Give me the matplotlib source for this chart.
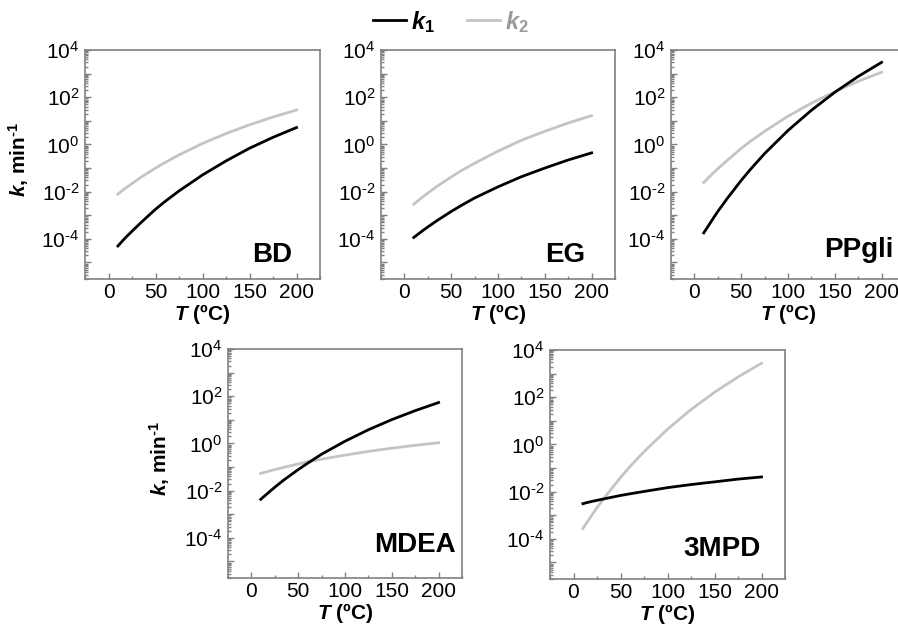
import math

import matplotlib
matplotlib.use("Agg")
import matplotlib.pyplot as plt
import matplotlib.ticker as mticker
from matplotlib.lines import Line2D

plt.rcParams["font.family"] = ["Liberation Sans", "DejaVu Sans"]
plt.rcParams["mathtext.fontset"] = "custom"
plt.rcParams["mathtext.rm"] = "Liberation Sans:bold"
plt.rcParams["mathtext.it"] = "Liberation Sans:bold:italic"
plt.rcParams["mathtext.bf"] = "Liberation Sans:bold"
plt.rcParams["axes.unicode_minus"] = False

# temperature points (deg C)
temps = [10, 15, 20, 25, 35, 50, 60, 75, 100, 125, 150, 175, 200]

# rate constants (min^-1)
bd_k1 = [5.0e-5, 8.3e-5, 1.35e-4, 2.1e-4, 5.1e-4, 1.8e-3, 3.8e-3, 1.07e-2, 5.1e-2,
         0.20, 0.69, 2.0, 5.2]
bd_k2 = [7.9e-3, 1.13e-2, 1.6e-2, 2.2e-2, 4.2e-2, 0.10, 0.17, 0.36, 1.10,
         2.9, 6.8, 14.5, 28.8]
eg_k1 = [1.15e-4, 1.63e-4, 2.3e-4, 3.2e-4, 6.0e-4, 1.45e-3, 2.5e-3, 5.4e-3, 1.6e-2,
         4.3e-2, 0.10, 0.22, 0.44]
eg_k2 = [2.95e-3, 4.3e-3, 6.2e-3, 8.7e-3, 1.7e-2, 4.2e-2, 7.4e-2, 0.16, 0.52,
         1.5, 3.6, 8.1, 16.6]
ppgli_k1 = [1.8e-4, 3.6e-4, 7.3e-4, 1.45e-3, 5.1e-3, 3.0e-2, 8.9e-2, 0.41, 3.9,
            28, 162, 760, 3000]
ppgli_k2 = [2.45e-2, 3.9e-2, 6.1e-2, 9.4e-2, 0.21, 0.68, 1.37, 3.6, 15.7,
            56, 173, 470, 1150]
mdea_k1 = [4.3e-3, 6.4e-3, 9.5e-3, 1.4e-2, 2.9e-2, 7.8e-2, 0.145, 0.35, 1.24,
           3.8, 10.2, 24.5, 54]
mdea_k2 = [5.4e-2, 6.1e-2, 6.9e-2, 7.8e-2, 9.8e-2, 0.135, 0.165, 0.215, 0.32,
           0.46, 0.63, 0.83, 1.07]
mpd_k1 = [3.1e-3, 3.5e-3, 3.9e-3, 4.3e-3, 5.2e-3, 6.9e-3, 8.1e-3, 1.02e-2, 1.48e-2,
          2.0e-2, 2.6e-2, 3.4e-2, 4.2e-2]
mpd_k2 = [2.75e-4, 5.5e-4, 1.07e-3, 2.1e-3, 7.1e-3, 4.0e-2, 0.115, 0.49, 4.4,
          30, 162, 720, 2750]

names = ["BD", "EG", "PPgli", "MDEA", "3MPD"]
k1_sets = [bd_k1, eg_k1, ppgli_k1, mdea_k1, mpd_k1]
k2_sets = [bd_k2, eg_k2, ppgli_k2, mdea_k2, mpd_k2]
x_ticks = [0, 50, 100, 150, 200]

W, H = 898, 628
# axes boxes in pixels: left, top, width, height
boxes = [
    (85, 50, 235, 229),
    (381, 50, 234, 229),
    (671, 50, 234, 229),
    (228, 349, 234, 229),
    (550, 350, 235, 229),
]
# panel name positions (axes fraction, right aligned, baseline)
name_pos = [(0.881, 0.074), (0.872, 0.074), (0.949, 0.096), (0.974, 0.114), (0.898, 0.10)]
ylabel_x = [-0.23, None, None, -0.24, None]

c1 = "black"
c2 = "#c4c4c4"
spine_c = "#808080"
HY = "\u2010"  # short hyphen like the original exponents

fig = plt.figure(figsize=(W / 100, H / 100), dpi=100)


def dec_fmt(val, pos):
    e = int(round(math.log10(val)))
    if e % 2:
        return ""
    exp = f"{HY}{-e}" if e < 0 else f"{e}"
    return r"$\mathdefault{10^{%s}}$" % exp


for i, name in enumerate(names):
    l, t, w, h = boxes[i]
    ax = fig.add_axes([l / W, 1 - (t + h) / H, w / W, h / H])
    ax.plot(temps, k1_sets[i], color=c1, lw=2.0, zorder=3)
    ax.plot(temps, k2_sets[i], color=c2, lw=2.0, zorder=2)
    ax.set_yscale("log")
    ax.set_xlim(-25, 225)
    ax.set_ylim(2e-6, 1e4)
    ax.set_xticks(x_ticks)
    ax.xaxis.set_minor_locator(mticker.MultipleLocator(25))
    ax.yaxis.set_major_locator(mticker.FixedLocator([10.0 ** e for e in range(-5, 5)]))
    ax.yaxis.set_major_formatter(mticker.FuncFormatter(dec_fmt))
    minors = [d * 10.0 ** e for e in range(-6, 4) for d in range(2, 10)]
    ax.yaxis.set_minor_locator(mticker.FixedLocator(minors))
    ax.yaxis.set_minor_formatter(mticker.NullFormatter())
    ax.tick_params(which="both", direction="in", colors=spine_c, labelcolor="black",
                   labelsize=15, width=1.0)
    ax.tick_params(which="major", length=4)
    ax.tick_params(axis="x", which="major", pad=3)
    ax.tick_params(axis="y", which="major", pad=4)
    ax.tick_params(which="minor", length=2)
    for sp in ax.spines.values():
        sp.set_color(spine_c)
        sp.set_linewidth(1.2)
    ax.set_xlabel(r"$T$ (ºC)", fontsize=15, fontweight="bold", labelpad=0)
    if ylabel_x[i] is not None:
        ax.set_ylabel(r"$k$, min$^{%s1}$" % HY, fontsize=15, fontweight="bold")
        ax.yaxis.set_label_coords(ylabel_x[i], 0.52)
    nx, ny = name_pos[i]
    ax.text(nx, ny, name, transform=ax.transAxes, ha="right", va="baseline",
            fontsize=20, fontweight="bold")

handles = [Line2D([], [], color=c1, lw=2.0), Line2D([], [], color=c2, lw=2.0)]
leg = fig.legend(handles, [r"$k_1$", r"$k_2$"], loc="upper center",
                 bbox_to_anchor=(0.502, 1.02), ncol=2, frameon=False, fontsize=17,
                 handlelength=1.4, handletextpad=0.2, columnspacing=1.4)
leg.get_texts()[1].set_color("#9a9a9a")

fig.savefig("out.png", dpi=100)
